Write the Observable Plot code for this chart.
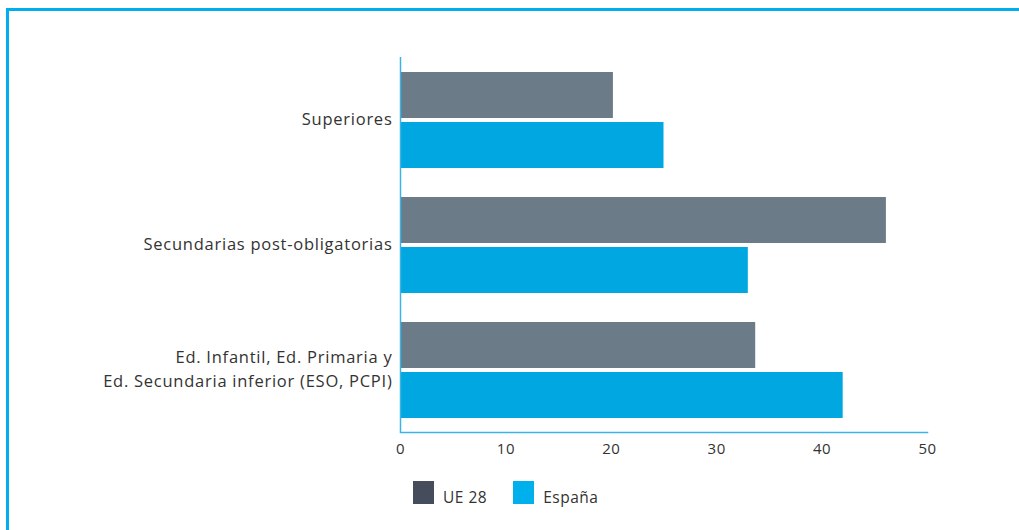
<!DOCTYPE html>
<html><head><meta charset="utf-8">
<script src="https://cdn.jsdelivr.net/npm/d3@7"></script>
<script src="https://cdn.jsdelivr.net/npm/@observablehq/plot@0.6"></script>
<style>
body{margin:0;background:#fff;font-family:"Open Sans",sans-serif;}
#wrap{position:relative;width:1019px;height:530px;overflow:hidden;background:#fff;}
#border{position:absolute;left:6px;top:8px;width:1100px;height:600px;border-top:3px solid #00aeef;border-left:3px solid #00aeef;}
#chart{position:absolute;left:0;top:0;}
#chart svg text{letter-spacing:0.5px;}
#chart svg g[aria-label="fy-axis tick label"] text{letter-spacing:0.75px;}
#legend{position:absolute;left:413px;top:481px;display:flex;align-items:flex-end;font-size:15.5px;color:#333;letter-spacing:0.5px;}
.item{display:flex;align-items:flex-end;margin-right:26px;}
.sw{width:21px;height:23px;margin-right:9px;}
.lab{line-height:16px;margin-bottom:-1px;}
</style></head>
<body><div id="wrap"><div id="border"></div><div id="chart"></div>
<div id="legend"></div></div>
<script>
const categories = ["Superiores", "Secundarias post-obligatorias", "Ed. Infantil, Ed. Primaria y\nEd. Secundaria inferior (ESO, PCPI)"];
const series = ["UE 28", "España"];
const ue28 = [20.2, 46.1, 33.7];
const espana = [25.0, 33.0, 42.0];
const xTicks = [0, 10, 20, 30, 40, 50];
const barColors = ["#6b7c88", "#00a7e1"];
const legendColors = ["#454c5c", "#00b0ec"];

const data = categories.flatMap((c, i) => [
  {cat: c, series: series[0], value: ue28[i]},
  {cat: c, series: series[1], value: espana[i]}
]);
const lastCat = categories[categories.length - 1];
const axisColor = "#3cb3e6";

const chart = Plot.plot({
  width: 1019,
  height: 470,
  marginLeft: 400,
  marginRight: 92,
  marginTop: 57,
  marginBottom: 38,
  style: {fontFamily: "'Open Sans', sans-serif", fontSize: "15px", color: "#333", background: "transparent"},
  x: {domain: [0, 50]},
  y: {domain: series, paddingInner: 0.08, paddingOuter: 0.29, axis: null},
  fy: {domain: categories, paddingInner: 0, paddingOuter: 0},
  color: {domain: series, range: barColors},
  marks: [
    Plot.barX(data, {fy: "cat", y: "series", x: "value", fill: "series"}),
    Plot.ruleX([0], {stroke: axisColor, strokeWidth: 1.5}),
    Plot.frame({anchor: "bottom", fy: () => lastCat, stroke: axisColor, strokeWidth: 1.5}),
    Plot.axisX({ticks: xTicks, tickSize: 0, tickPadding: 11, label: null, fill: "#333", fontSize: 15}),
    Plot.axisFy({anchor: "left", tickSize: 0, tickPadding: 8, label: null, fill: "#333", fontSize: 16.5, lineHeight: 1.45, dy: -3})
  ]
});
document.getElementById("chart").appendChild(chart);

const legend = document.getElementById("legend");
series.forEach((s, i) => {
  const it = document.createElement("div");
  it.className = "item";
  const sw = document.createElement("div");
  sw.className = "sw";
  sw.style.background = legendColors[i];
  const lab = document.createElement("div");
  lab.className = "lab";
  lab.textContent = s;
  it.appendChild(sw); it.appendChild(lab);
  legend.appendChild(it);
});
</script></body></html>
